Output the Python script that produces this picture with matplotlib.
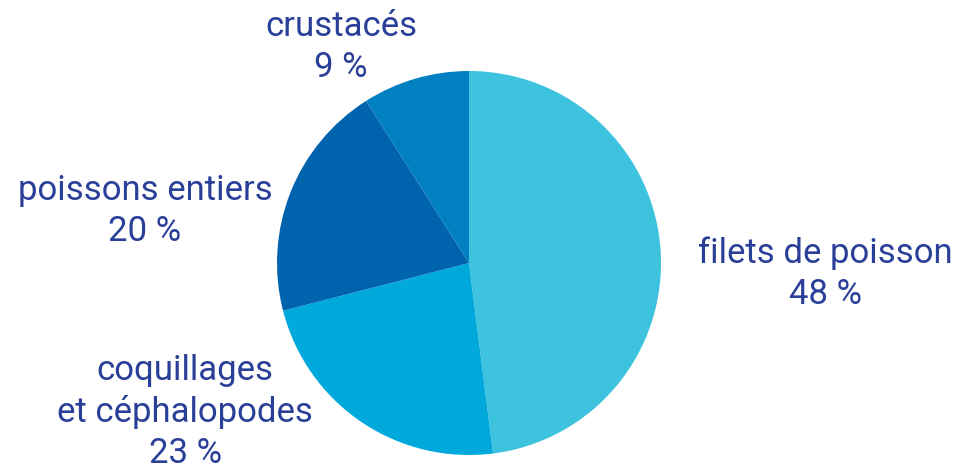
import matplotlib.pyplot as plt

# share of seafood products
categories = ["filets de poisson", "coquillages\net céphalopodes", "poissons entiers", "crustacés"]
shares = [48, 23, 20, 9]
colors = ["#3dc3de", "#00a9dc", "#0063ae", "#0080c0"]

# label anchors in pixel coords (x, y from top)
label_pos = [(825, 274), (185, 412), (145, 211), (341, 47)]

W, H = 955, 469
fig = plt.figure(figsize=(W / 100, H / 100), dpi=100)
ax = fig.add_axes([0, 0, 1, 1])

ax.pie(shares, colors=colors, startangle=90, counterclock=False,
       center=(469, H - 263), radius=192, frame=True,
       wedgeprops=dict(linewidth=0))
ax.set_xlim(0, W)
ax.set_ylim(0, H)
ax.set_aspect("equal")
ax.axis("off")

for cat, val, (x, y) in zip(categories, shares, label_pos):
    ax.text(x, H - y, f"{cat}\n{val} %", ha="center", va="center",
            fontsize=25, color="#2a3f98", family="Roboto", linespacing=1.32)

fig.savefig("out.png", dpi=100)
